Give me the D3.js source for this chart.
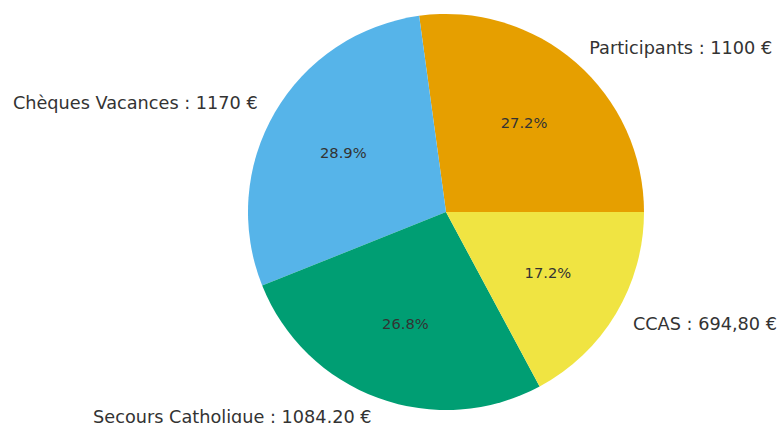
<!DOCTYPE html>
<html>
<head>
<meta charset="utf-8">
<script src="https://cdn.jsdelivr.net/npm/d3@7"></script>
<style>
  body { margin: 0; background: #fff; }
  svg { display: block; }
</style>
</head>
<body>
<div id="chart"></div>
<script>
// Pie data
var labels = ["Participants : 1100 €", "Chèques Vacances : 1170 €", "Secours Catholique : 1084,20 €", "CCAS : 694,80 €"];
var values = [1100, 1170, 1084.2, 694.8];
var colors = ["#e69f00", "#56b4e9", "#009e73", "#f0e442"];

var width = 779, height = 423;
var cx = 446, cy = 212, radius = 198;

var svg = d3
  .select("#chart")
  .append("svg")
  .attr("width", width)
  .attr("height", height)
  .append("g")
  .attr("transform", "translate(" + cx + "," + cy + ")");

var total = d3.sum(values);

// start at 3 o'clock, go counterclockwise
var pie = d3
  .pie()
  .sort(null)
  .startAngle(Math.PI / 2)
  .endAngle(Math.PI / 2 - 2 * Math.PI)
  .value(function (d) {
    return d;
  });

var arcs = pie(values);

var arc = d3.arc().innerRadius(0).outerRadius(radius);

svg
  .selectAll(".slice")
  .data(arcs)
  .enter()
  .append("path")
  .attr("class", "slice")
  .attr("d", arc)
  .style("fill", function (d, i) {
    return colors[i];
  });

function pointAt(d, r) {
  var a = (d.startAngle + d.endAngle) / 2;
  return [r * Math.sin(a), -r * Math.cos(a)];
}

// percent labels
svg
  .selectAll(".pct")
  .data(arcs)
  .enter()
  .append("text")
  .attr("class", "pct")
  .attr("x", function (d) { return pointAt(d, radius * 0.6)[0]; })
  .attr("y", function (d) { return pointAt(d, radius * 0.6)[1]; })
  .attr("text-anchor", "middle")
  .attr("dominant-baseline", "central")
  .style("font-family", "DejaVu Sans")
  .style("font-size", "14.7px")
  .style("fill", "#333")
  .text(function (d) {
    return (d.data / total * 100).toFixed(1) + "%";
  });

// outside labels
svg
  .selectAll(".label")
  .data(arcs)
  .enter()
  .append("text")
  .attr("class", "label")
  .attr("x", function (d) { return pointAt(d, radius * 1.1)[0]; })
  .attr("y", function (d) { return pointAt(d, radius * 1.1)[1]; })
  .attr("text-anchor", function (d) {
    return pointAt(d, 1)[0] > 0 ? "start" : "end";
  })
  .attr("dominant-baseline", "central")
  .style("font-family", "DejaVu Sans")
  .style("font-size", "17.7px")
  .style("fill", "#333")
  .text(function (d, i) {
    return labels[i];
  });
</script>
</body>
</html>
